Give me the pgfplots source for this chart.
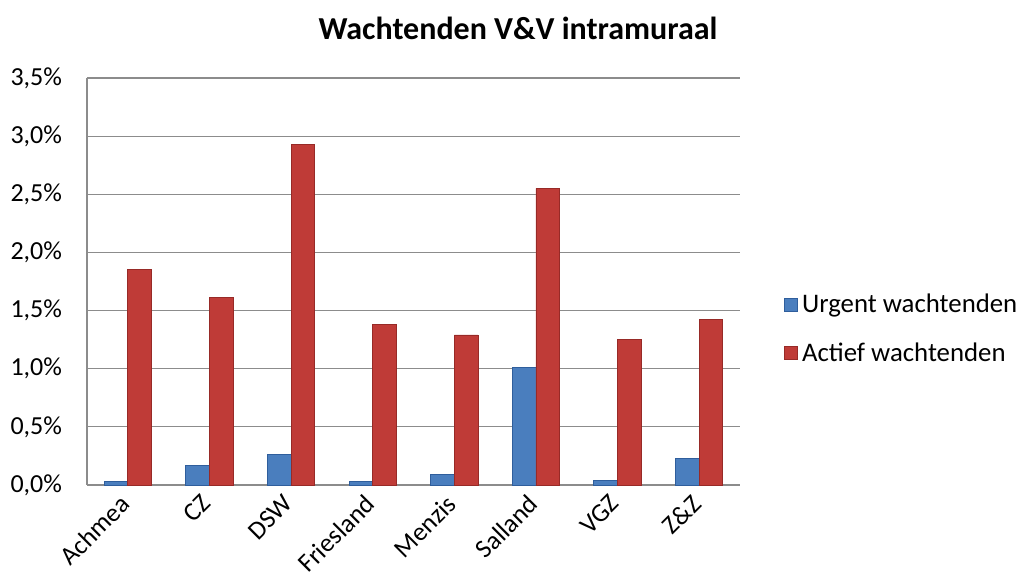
\documentclass[border=0pt]{standalone}
\usepackage{pgfplots}
\pgfplotsset{compat=1.18}
\usepackage{fontspec}
\setmainfont{Carlito}
\definecolor{gridc}{HTML}{8C8C8C}
\definecolor{bluefill}{HTML}{4A7EBE}
\definecolor{blueedge}{HTML}{2F5E9C}
\definecolor{redfill}{HTML}{BF3B37}
\definecolor{rededge}{HTML}{972A27}
\begin{document}
\begin{tikzpicture}
\begin{axis}[
  at={(0,0)}, anchor=south west,
  scale only axis,
  width=326.5pt, height=203.5pt,
  ybar=0pt, bar width=0.29,
  xmin=-0.5, xmax=7.5,
  ymin=0, ymax=3.5,
  xtick={0,...,7},
  xticklabels={Achmea,CZ,DSW,Friesland,Menzis,Salland,VGZ,Z\&Z},
  x tick label style={xshift=-4.5pt, yshift=-2.5pt, rotate=45, anchor=north east, font=\fontsize{13}{15}\selectfont, inner sep=1pt},
  ytick={0,0.5,...,3.5},
  yticklabel={\pgfmathprintnumber[fixed,fixed zerofill,precision=1,use comma]{\tick}\%},
  y tick label style={font=\fontsize{13}{15}\selectfont, xshift=-9pt},
  /pgf/number format/assume math mode=true,
  ymajorgrids, major grid style={gridc, line width=0.6pt},
  axis lines*=left,
  axis line style={gridc, line width=0.6pt},
  major tick length=0pt,
  legend cell align=left,
  legend style={at={(1.058,0.383)}, anchor=west, draw=none, fill=none,
    font=\fontsize{13.4}{16}\selectfont, row sep=9.5pt,
    /tikz/every even column/.append style={column sep=1pt}},
  legend image code/.code={\fill[#1] (0pt,-3.2pt) rectangle (6.5pt,3.3pt);},
  clip=false,
]
\addplot[draw=blueedge, line width=0.4pt, fill=bluefill] coordinates {
 (0,0.03) (1,0.17) (2,0.26) (3,0.03) (4,0.09) (5,1.01) (6,0.04) (7,0.23)};
\addplot[draw=rededge, line width=0.4pt, fill=redfill] coordinates {
 (0,1.85) (1,1.61) (2,2.93) (3,1.38) (4,1.29) (5,2.55) (6,1.25) (7,1.42)};
\legend{Urgent wachtenden, Actief wachtenden}
\end{axis}
\node[font=\bfseries\fontsize{16}{19}\selectfont, anchor=center] at (215.5pt,228.5pt) {Wachtenden V\&V intramuraal};
\pgfresetboundingbox
\path[use as bounding box] (-43.5pt,-51.5pt) rectangle (468.5pt,242.5pt);
\end{tikzpicture}
\end{document}
